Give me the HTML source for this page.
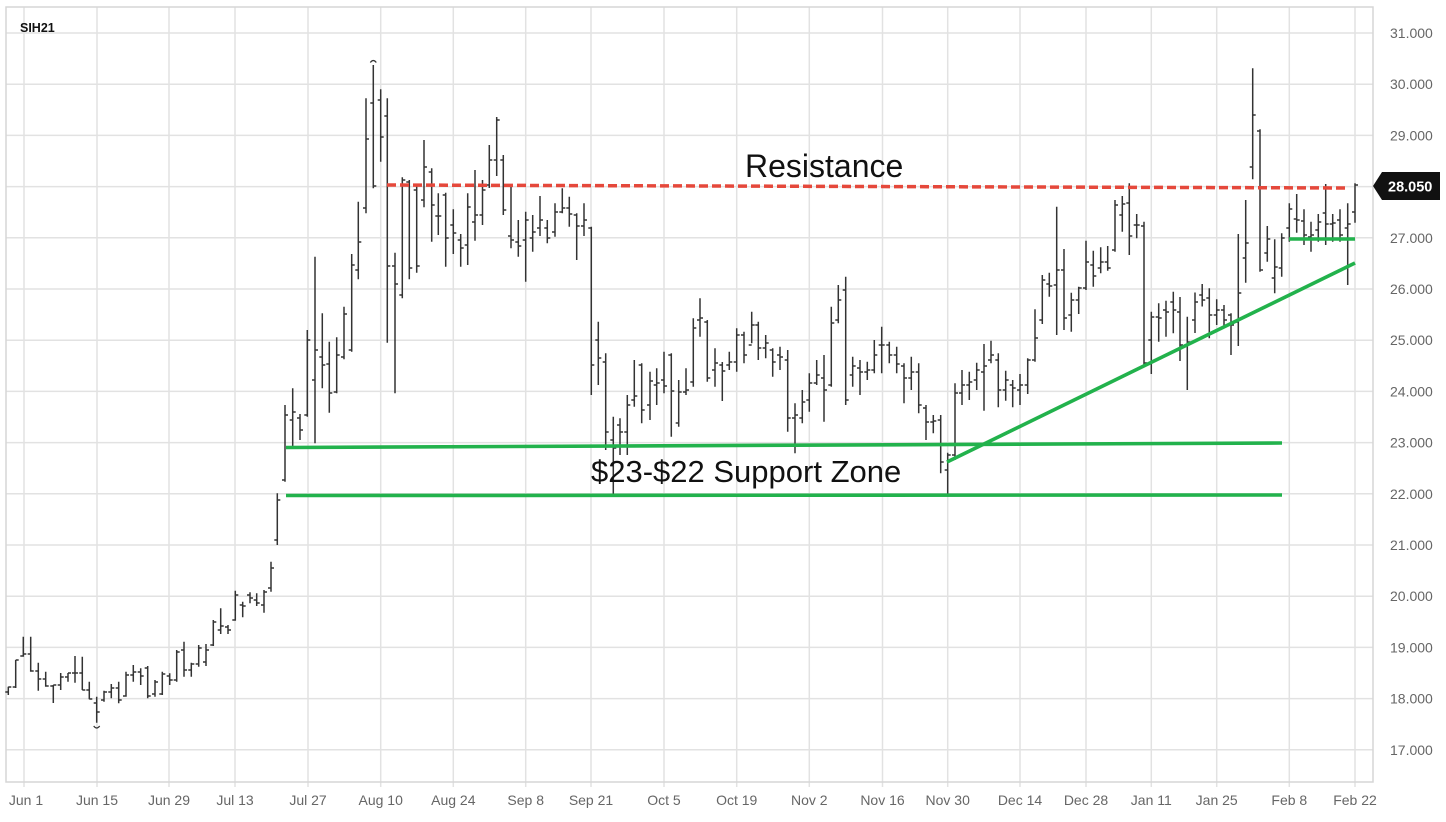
<!DOCTYPE html>
<html><head><meta charset="utf-8"><style>
html,body{margin:0;padding:0;background:#fff;}
body{width:1446px;height:822px;overflow:hidden;}
svg{display:block;font-family:"Liberation Sans",sans-serif;}
</style></head><body>
<svg width="1446" height="822" viewBox="0 0 1446 822" xmlns="http://www.w3.org/2000/svg">
<rect width="1446" height="822" fill="#fff"/>
<g stroke="#e2e2e2" stroke-width="1.5" fill="none">
<path d="M6 33H1373M6 84.2H1373M6 135.4H1373M6 186.6H1373M6 237.8H1373M6 289H1373M6 340.2H1373M6 391.4H1373M6 442.6H1373M6 493.8H1373M6 545H1373M6 596.2H1373M6 647.4H1373M6 698.6H1373M6 749.8H1373"/>
<path d="M24 7V787M97 7V787M169 7V787M235 7V787M308 7V787M380.7 7V787M453.3 7V787M525.7 7V787M591 7V787M664 7V787M736.7 7V787M809.3 7V787M882.5 7V787M947.7 7V787M1020 7V787M1086 7V787M1151.3 7V787M1216.7 7V787M1289.3 7V787M1355 7V787"/>
</g>
<path d="M6 7H1373V782H6Z" stroke="#d6d6d6" stroke-width="1.5" fill="none"/>
<text x="20" y="32" font-size="12.5" font-weight="bold" fill="#111">SIH21</text>
<g font-size="14" fill="#666">
<text x="1390" y="38">31.000</text>
<text x="1390" y="89.2">30.000</text>
<text x="1390" y="140.4">29.000</text>
<text x="1390" y="243">27.000</text>
<text x="1390" y="294">26.000</text>
<text x="1390" y="345.2">25.000</text>
<text x="1390" y="396.4">24.000</text>
<text x="1390" y="447.6">23.000</text>
<text x="1390" y="498.8">22.000</text>
<text x="1390" y="550">21.000</text>
<text x="1390" y="601.2">20.000</text>
<text x="1390" y="652.4">19.000</text>
<text x="1390" y="703.6">18.000</text>
<text x="1390" y="754.8">17.000</text>
</g>
<g font-size="14" fill="#666" text-anchor="middle">
<text x="26" y="805">Jun 1</text>
<text x="97" y="805">Jun 15</text>
<text x="169" y="805">Jun 29</text>
<text x="235" y="805">Jul 13</text>
<text x="308" y="805">Jul 27</text>
<text x="380.7" y="805">Aug 10</text>
<text x="453.3" y="805">Aug 24</text>
<text x="525.7" y="805">Sep 8</text>
<text x="591" y="805">Sep 21</text>
<text x="664" y="805">Oct 5</text>
<text x="736.7" y="805">Oct 19</text>
<text x="809.3" y="805">Nov 2</text>
<text x="882.5" y="805">Nov 16</text>
<text x="947.7" y="805">Nov 30</text>
<text x="1020" y="805">Dec 14</text>
<text x="1086" y="805">Dec 28</text>
<text x="1151.3" y="805">Jan 11</text>
<text x="1216.7" y="805">Jan 25</text>
<text x="1289.3" y="805">Feb 8</text>
<text x="1355" y="805">Feb 22</text>
</g>
<path stroke="#333" stroke-width="1.5" fill="none" d="M8.3 686.7V695M5.3 692h3M8.3 687h3M15.7 660V688M12.7 687h3M15.7 660h3M23.3 636.7V656.7M20.3 656h3M23.3 654h3M30.7 636.7V671.7M27.7 654h3M30.7 671h3M38.3 662.7V690.7M35.3 671h3M38.3 679h3M45.7 671.7V686.7M42.7 679h3M45.7 686h3M53.3 685V703M50.3 686h3M53.3 685h3M60.7 673V690M57.7 685h3M60.7 677h3M68 673V681.7M65 677h3M68 673h3M75 656V682.7M72 673h3M75 673h3M82.3 656.7V690M79.3 673h3M82.3 690h3M89.3 681.7V699.3M86.3 690h3M89.3 699h3M96.7 696.7V722.7M93.7 703h3M96.7 712h3M104 690.7V701.7M101 700h3M104 692h3M111.3 684V698.3M108.3 692h3M111.3 688h3M118.7 681.7V703.3M115.7 688h3M118.7 700h3M126 671.7V696.7M123 696h3M126 675h3M133.3 665V681.7M130.3 675h3M133.3 672h3M140.7 668.3V685M137.7 672h3M140.7 676h3M147.7 666V698.3M144.7 668h3M147.7 696h3M155 680V696.7M152 694h3M155 682h3M162.3 671.7V695M159.3 694h3M162.3 674h3M169.7 673.3V685M166.7 676h3M169.7 680h3M176.7 650V681.7M173.7 680h3M176.7 652h3M184 641.7V676.7M181 650h3M184 670h3M191.3 662.7V676.7M188.3 670h3M191.3 664h3M198.7 645V666.7M195.7 664h3M198.7 648h3M206 644V666M203 662h3M206 650h3M213.3 620V646M210.3 645h3M213.3 622h3M220.7 608.3V634M217.7 630h3M220.7 626h3M228 625V634M225 627h3M228 630h3M235.3 590.7V620.7M232.3 620h3M235.3 595h3M242.7 601.7V617.3M239.7 605h3M242.7 606h3M250 592.3V603.3M247 595h3M250 598h3M256.7 593.3V606M253.7 600h3M256.7 603h3M264 590V612.7M261 605h3M264 592h3M271 561.7V591.7M268 588h3M271 568h3M277.3 493.3V545M274.3 540h3M277.3 500h3M285 405V481.7M282 480h3M285 415h3M292.7 388.3V446.7M289.7 420h3M292.7 412h3M300 414V440M297 418h3M300 430h3M307.3 330V416.7M304.3 415h3M307.3 340h3M315 256.7V443.3M312 380h3M315 350h3M322.3 313.3V388.3M319.3 357h3M322.3 365h3M329.3 341.7V412.7M326.3 364h3M329.3 393h3M336.7 337.3V393.3M333.7 392h3M336.7 355h3M344 306.7V359.3M341 357h3M344 314h3M351.7 254V351.7M348.7 350h3M351.7 265h3M358.3 201.7V279.3M355.3 270h3M358.3 242h3M366 98.3V213.3M363 208h3M366 139h3M373.3 65V188.3M370.3 103h3M373.3 186h3M380.7 89.3V161.7M377.7 100h3M380.7 137h3M387.3 98.3V342.7M384.3 116h3M387.3 266h3M395 252.7V393.3M392 266h3M395 284h3M402.3 177.3V298.3M399.3 295h3M402.3 180h3M409.3 180V279.3M406.3 182h3M409.3 268h3M416.7 186V272.7M413.7 190h3M416.7 266h3M424 140V207.3M421 200h3M424 167h3M431.7 168.3V241.7M428.7 172h3M431.7 205h3M438.3 193.3V235M435.3 216h3M438.3 216h3M445.7 192.7V266.7M442.7 195h3M445.7 238h3M453.3 209.3V254M450.3 225h3M453.3 233h3M460.7 234V266.7M457.7 240h3M460.7 248h3M467.7 193.3V265M464.7 245h3M467.7 207h3M475 170V240.7M472 222h3M475 215h3M482.5 180V225M479.5 215h3M482.5 190h3M489.3 145V188M486.3 185h3M489.3 160h3M496.7 117V176M493.7 160h3M496.7 120h3M503.3 155V215M500.3 160h3M503.3 210h3M511 186.7V248.3M508 236h3M511 240h3M518.3 220V256.7M515.3 242h3M518.3 246h3M525.7 211.7V281.7M522.7 240h3M525.7 220h3M532.7 215V251.7M529.7 238h3M532.7 232h3M540 196V236M537 228h3M540 220h3M547.3 220V243.3M544.3 228h3M547.3 238h3M555 203.3V236.7M552 232h3M555 212h3M562.3 188.3V213.3M559.3 212h3M562.3 208h3M569.3 196.7V226.7M566.3 208h3M569.3 214h3M576.7 213.3V260M573.7 215h3M576.7 226h3M584 203.3V236M581 226h3M584 220h3M591.3 226.7V395M588.3 228h3M591.3 365h3M598.3 321.7V385M595.3 340h3M598.3 358h3M605.7 353.3V450M602.7 362h3M605.7 432h3M613.3 416.7V495M610.3 440h3M613.3 448h3M620 418.3V455M617 425h3M620 432h3M627.3 395V455M624.3 432h3M627.3 405h3M634.3 360V406.7M631.3 400h3M634.3 396h3M641.7 363.3V423.3M638.7 365h3M641.7 410h3M650 371.7V420M647 405h3M650 381h3M656.7 368.3V405M653.7 385h3M656.7 383h3M664 351.7V393.3M661 380h3M664 386h3M671.3 353.3V436.7M668.3 355h3M671.3 391h3M678.7 380V426.7M675.7 423h3M678.7 392h3M686 368.3V395M683 392h3M686 390h3M693.3 318.3V386.7M690.3 382h3M693.3 328h3M700 298.3V336.7M697 320h3M700 318h3M707.3 320V381.7M704.3 322h3M707.3 378h3M715 348.3V386.7M712 370h3M715 363h3M722.3 362V401M719.3 365h3M722.3 371h3M729.3 351.7V370M726.3 365h3M729.3 362h3M736.7 328.3V371.7M733.7 362h3M736.7 335h3M744 331.7V363.3M741 335h3M744 355h3M751.7 311.7V343.3M748.7 345h3M751.7 325h3M758.3 321.7V360M755.3 325h3M758.3 348h3M765.7 335V358.3M762.7 348h3M765.7 343h3M772.7 348.3V376.7M769.7 350h3M772.7 362h3M780 346.7V370M777 355h3M780 357h3M787.7 350V431.7M784.7 360h3M787.7 418h3M795 403.3V453.3M792 418h3M795 415h3M802.3 390V423.3M799.3 418h3M802.3 402h3M809.3 373.3V411.7M806.3 400h3M809.3 383h3M816.7 360V385M813.7 383h3M816.7 375h3M824 355V421.7M821 378h3M824 390h3M831.3 306.7V386.7M828.3 385h3M831.3 323h3M838.3 285V323.3M835.3 320h3M838.3 300h3M845.7 276.7V405M842.7 290h3M845.7 400h3M852.7 356.7V386.7M849.7 375h3M852.7 366h3M860 360V395M857 368h3M860 372h3M867.3 361.7V380M864.3 372h3M867.3 370h3M874.3 340V373.3M871.3 370h3M874.3 355h3M881.7 326.7V373.3M878.7 345h3M881.7 345h3M889.3 341.7V363.3M886.3 345h3M889.3 355h3M896.7 346.7V373.3M893.7 355h3M896.7 364h3M904 363.3V403.3M901 366h3M904 378h3M911.3 356.7V390M908.3 378h3M911.3 372h3M918.7 363.3V413.3M915.7 372h3M918.7 405h3M926 405V440M923 408h3M926 422h3M933.3 415V433.3M930.3 422h3M933.3 421h3M940.7 415V473.3M937.7 420h3M940.7 462h3M947.7 452.7V495M944.7 470h3M947.7 455h3M955 383.3V460M952 455h3M955 393h3M962 370V405M959 393h3M962 385h3M969.3 371.7V400M966.3 385h3M969.3 382h3M976.7 362.7V390M973.7 380h3M976.7 370h3M984 344V410.7M981 372h3M984 366h3M991 340.7V363.3M988 360h3M991 355h3M998.3 353.3V407.3M995.3 360h3M998.3 390h3M1005.7 370.7V400.7M1002.7 390h3M1005.7 380h3M1012.7 380V407.3M1009.7 385h3M1012.7 388h3M1020 374V405M1017 390h3M1020 385h3M1027.7 358.3V394M1024.7 385h3M1027.7 360h3M1035 309.3V361.7M1032 360h3M1035 338h3M1042.3 275V324M1039.3 320h3M1042.3 280h3M1049.3 272.7V296.7M1046.3 284h3M1049.3 286h3M1056.7 206.7V335M1053.7 285h3M1056.7 270h3M1064 249V330M1061 270h3M1064 318h3M1071.3 292.7V331.7M1068.3 315h3M1071.3 300h3M1078.7 286.7V314M1075.7 300h3M1078.7 288h3M1086 240.7V290M1083 288h3M1086 262h3M1093.3 250.7V286.7M1090.3 265h3M1093.3 276h3M1100.7 247.3V273.3M1097.7 268h3M1100.7 262h3M1107.7 246V270.7M1104.7 262h3M1107.7 268h3M1115 200V251.7M1112 250h3M1115 205h3M1122.3 196V231.7M1119.3 215h3M1122.3 204h3M1129.3 183.3V255M1126.3 203h3M1129.3 236h3M1136.7 214V238.3M1133.7 225h3M1136.7 225h3M1144 221.7V365M1141 226h3M1144 363h3M1151.3 311.7V374M1148.3 340h3M1151.3 317h3M1158.7 303.3V341.7M1155.7 317h3M1158.7 318h3M1166 300.7V336.7M1163 310h3M1166 312h3M1173.3 291.7V333.3M1170.3 302h3M1173.3 310h3M1180 297V361M1177 312h3M1180 345h3M1187.3 316.7V390M1184.3 345h3M1187.3 342h3M1195 292.5V333M1192 320h3M1195 302h3M1202.2 284V306.5M1199.2 295h3M1202.2 300h3M1209.3 288.3V338.3M1206.3 298h3M1209.3 315h3M1216.7 299.3V325M1213.7 315h3M1216.7 310h3M1224 305V328.3M1221 310h3M1224 320h3M1231 313.3V355M1228 315h3M1231 325h3M1238.3 234V346M1235.3 322h3M1238.3 293h3M1245.7 200V282.7M1242.7 258h3M1245.7 243h3M1252.7 68.3V179.3M1249.7 167h3M1252.7 115h3M1260 129.3V271.7M1257 131h3M1260 270h3M1267.3 226V261.7M1264.3 253h3M1267.3 239h3M1274.7 239.3V293.3M1271.7 278h3M1274.7 267h3M1281.7 233.3V276.7M1278.7 268h3M1281.7 238h3M1289.3 203.3V241.7M1286.3 228h3M1289.3 209h3M1296.7 194V232.7M1293.7 219h3M1296.7 220h3M1304 209.3V245M1301 221h3M1304 235h3M1311 221.7V251.7M1308 237h3M1311 235h3M1318.3 214V241.7M1315.3 230h3M1318.3 222h3M1325.7 184V245M1322.7 213h3M1325.7 224h3M1332.7 214V241.7M1329.7 224h3M1332.7 223h3M1340 209.3V241.7M1337 220h3M1340 235h3M1347.7 203.3V285M1344.7 228h3M1347.7 224h3M1355 183.3V222.7M1352 212h3M1355 185h3"/>
<path d="M370.3 62.5q3 -4 6 0M93.7 726q3 4 6 0" stroke="#333" stroke-width="1.2" fill="none"/>
<g stroke="#22b24c" stroke-width="3.6" fill="none">
<path d="M286 447.5L1282 443"/>
<path d="M286 495.5L1282 495"/>
<path d="M947 462L1355 263"/>
<path d="M1289 239H1355"/>
</g>
<path d="M387 185L1347 188" stroke="#e5483b" stroke-width="3.5" stroke-dasharray="9 4" fill="none"/>
<text x="745" y="177" font-size="32" fill="#111">Resistance</text>
<text x="591" y="482" font-size="31" fill="#111">$23-$22 Support Zone</text>
<polygon points="1373,186 1382,172 1440,172 1440,200 1382,200" fill="#111"/>
<text x="1388" y="191.5" font-size="14.5" font-weight="bold" fill="#fff">28.050</text>
</svg>
</body></html>
